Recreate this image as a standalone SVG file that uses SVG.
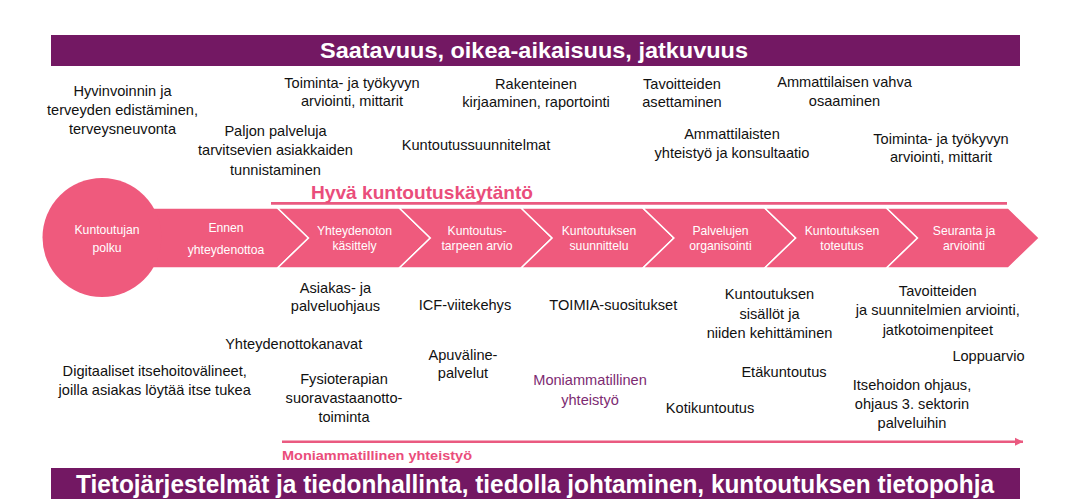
<svg xmlns="http://www.w3.org/2000/svg" width="1090" height="500" viewBox="0 0 1090 500">
<style>
.t{font-family:"Liberation Sans",Arial,sans-serif;font-size:14.6px;fill:#111;text-anchor:middle}
.w{font-family:"Liberation Sans",Arial,sans-serif;font-size:12.2px;fill:#fff;text-anchor:middle}
.seg{fill:#EF5A7D;stroke:#fff;stroke-width:1.5;stroke-linejoin:miter}
.ban{fill:#731863}
.bt{font-family:"Liberation Sans",Arial,sans-serif;font-weight:bold;fill:#fff}
.pk{font-family:"Liberation Sans",Arial,sans-serif;font-weight:bold;fill:#EA4D7B}
.pu{fill:#7D2B72}
</style>
<defs>
<marker id="ah" markerUnits="userSpaceOnUse" markerWidth="9" markerHeight="9" refX="8" refY="4.5" orient="auto">
<path d="M0,0.5 L8,4.5 L0,8.5 Z" fill="#EA5A80"/>
</marker>
</defs>
<rect width="1090" height="500" fill="#fff"/>

<g id="top-banner">
<rect class="ban" x="51" y="35" width="969" height="31"/>
<text class="bt" x="320" y="57.5" font-size="22.5" textLength="428" lengthAdjust="spacingAndGlyphs">Saatavuus, oikea-aikaisuus, jatkuvuus</text>
</g>

<g id="bottom-banner">
<rect class="ban" x="51" y="468" width="969" height="31"/>
<text class="bt" x="76" y="492.5" font-size="26" textLength="918" lengthAdjust="spacingAndGlyphs">Tietojärjestelmät ja tiedonhallinta, tiedolla johtaminen, kuntoutuksen tietopohja</text>
</g>

<g id="connectors">
<line x1="271" y1="203.3" x2="1007" y2="203.3" stroke="#EA5A80" stroke-width="2.8"/>
<line x1="282" y1="441.7" x2="1023" y2="441.7" stroke="#EA5A80" stroke-width="2.4" marker-end="url(#ah)"/>
</g>

<g id="label-hyva">
<text class="pk" x="311" y="198.5" font-size="19" textLength="222" lengthAdjust="spacingAndGlyphs">Hyvä kuntoutuskäytäntö</text>
</g>
<g id="label-moniammatillinen-bottom">
<text class="pk" x="282" y="459.5" font-size="13.5" textLength="190" lengthAdjust="spacingAndGlyphs">Moniammatillinen yhteistyö</text>
</g>

<g id="step-ennen">
<polygon class="seg" points="102,208 277.5,208 308.5,238 277.5,268 102,268"/>
<text class="w" x="226" y="231.5">Ennen</text>
<text class="w" x="226" y="253.5">yhteydenottoa</text>
</g>
<g id="step-polku">
<circle cx="102" cy="237.5" r="59.5" fill="#EF5A7D"/>
<text class="w" x="107" y="234">Kuntoutujan</text>
<text class="w" x="107" y="251.5">polku</text>
</g>
<g id="step-yhteydenoton">
<polygon class="seg" points="277.5,208 399.3,208 430.3,238 399.3,268 277.5,268 308.5,238"/>
<text class="w" x="354.5" y="234.5">Yhteydenoton</text>
<text class="w" x="354.5" y="249.5">käsittely</text>
</g>
<g id="step-tarpeen-arvio">
<polygon class="seg" points="399.3,208 521.1,208 552.1,238 521.1,268 399.3,268 430.3,238"/>
<text class="w" x="477" y="234.5">Kuntoutus-</text>
<text class="w" x="477" y="249.5">tarpeen arvio</text>
</g>
<g id="step-suunnittelu">
<polygon class="seg" points="521.1,208 642.9,208 673.9,238 642.9,268 521.1,268 552.1,238"/>
<text class="w" x="599" y="234.5">Kuntoutuksen</text>
<text class="w" x="599" y="249.5">suunnittelu</text>
</g>
<g id="step-organisointi">
<polygon class="seg" points="642.9,208 764.7,208 795.7,238 764.7,268 642.9,268 673.9,238"/>
<text class="w" x="720.5" y="234.5">Palvelujen</text>
<text class="w" x="720.5" y="249.5">organisointi</text>
</g>
<g id="step-toteutus">
<polygon class="seg" points="764.7,208 886.5,208 917.5,238 886.5,268 764.7,268 795.7,238"/>
<text class="w" x="842" y="234.5">Kuntoutuksen</text>
<text class="w" x="842" y="249.5">toteutus</text>
</g>
<g id="step-seuranta">
<polygon class="seg" points="886.5,208 1008.3,208 1039.3,238 1008.3,268 886.5,268 917.5,238"/>
<text class="w" x="964" y="234.5">Seuranta ja</text>
<text class="w" x="964" y="249.5">arviointi</text>
</g>

<g id="upper-texts">
<g id="u-hyvinvointi"><text class="t" x="122.5" y="96">Hyvinvoinnin ja</text><text class="t" x="122.5" y="115">terveyden edistäminen,</text><text class="t" x="122.5" y="134">terveysneuvonta</text></g>
<g id="u-toimintakyky1"><text class="t" x="352" y="87.5">Toiminta- ja työkyvyn</text><text class="t" x="352" y="106">arviointi, mittarit</text></g>
<g id="u-paljon"><text class="t" x="275.5" y="136">Paljon palveluja</text><text class="t" x="275.5" y="155">tarvitsevien asiakkaiden</text><text class="t" x="275.5" y="174.5">tunnistaminen</text></g>
<g id="u-kirjaaminen"><text class="t" x="536" y="88.5">Rakenteinen</text><text class="t" x="536" y="107">kirjaaminen, raportointi</text></g>
<g id="u-suunnitelmat"><text class="t" x="476" y="150">Kuntoutussuunnitelmat</text></g>
<g id="u-tavoitteet"><text class="t" x="682" y="88.5">Tavoitteiden</text><text class="t" x="682" y="107">asettaminen</text></g>
<g id="u-osaaminen"><text class="t" x="844.5" y="87">Ammattilaisen vahva</text><text class="t" x="844.5" y="106">osaaminen</text></g>
<g id="u-konsultaatio"><text class="t" x="732" y="138.5">Ammattilaisten</text><text class="t" x="732" y="157.5">yhteistyö ja konsultaatio</text></g>
<g id="u-toimintakyky2"><text class="t" x="941" y="143.5">Toiminta- ja työkyvyn</text><text class="t" x="941" y="162">arviointi, mittarit</text></g>
</g>

<g id="lower-texts">
<g id="l-ohjaus"><text class="t" x="335.5" y="292.5">Asiakas- ja</text><text class="t" x="335.5" y="311">palveluohjaus</text></g>
<g id="l-icf"><text class="t" x="465" y="309.5">ICF-viitekehys</text></g>
<g id="l-kanavat"><text class="t" x="293.7" y="348.5">Yhteydenottokanavat</text></g>
<g id="l-apuvaline"><text class="t" x="463" y="360">Apuväline-</text><text class="t" x="463" y="378">palvelut</text></g>
<g id="l-digitaaliset"><text class="t" x="154.7" y="376">Digitaaliset itsehoitovälineet,</text><text class="t" x="154.7" y="394.5">joilla asiakas löytää itse tukea</text></g>
<g id="l-fysioterapia"><text class="t" x="344" y="384">Fysioterapian</text><text class="t" x="344" y="403">suoravastaanotto-</text><text class="t" x="344" y="422">toiminta</text></g>
<g id="l-moniammatillinen"><text class="t pu" x="590" y="385">Moniammatillinen</text><text class="t pu" x="590" y="404.5">yhteistyö</text></g>
<g id="l-toimia"><text class="t" x="613.3" y="310">TOIMIA-suositukset</text></g>
<g id="l-sisallot"><text class="t" x="769.5" y="299">Kuntoutuksen</text><text class="t" x="769.5" y="318.5">sisällöt ja</text><text class="t" x="769.5" y="337.5">niiden kehittäminen</text></g>
<g id="l-eta"><text class="t" x="784" y="377">Etäkuntoutus</text></g>
<g id="l-koti"><text class="t" x="710" y="413">Kotikuntoutus</text></g>
<g id="l-arviointi"><text class="t" x="937.8" y="296">Tavoitteiden</text><text class="t" x="937.8" y="315">ja suunnitelmien arviointi,</text><text class="t" x="937.8" y="334.5">jatkotoimenpiteet</text></g>
<g id="l-loppuarvio"><text class="t" x="988.5" y="361">Loppuarvio</text></g>
<g id="l-itsehoito"><text class="t" x="912" y="390">Itsehoidon ohjaus,</text><text class="t" x="912" y="408.5">ohjaus 3. sektorin</text><text class="t" x="912" y="428">palveluihin</text></g>
</g>
</svg>
